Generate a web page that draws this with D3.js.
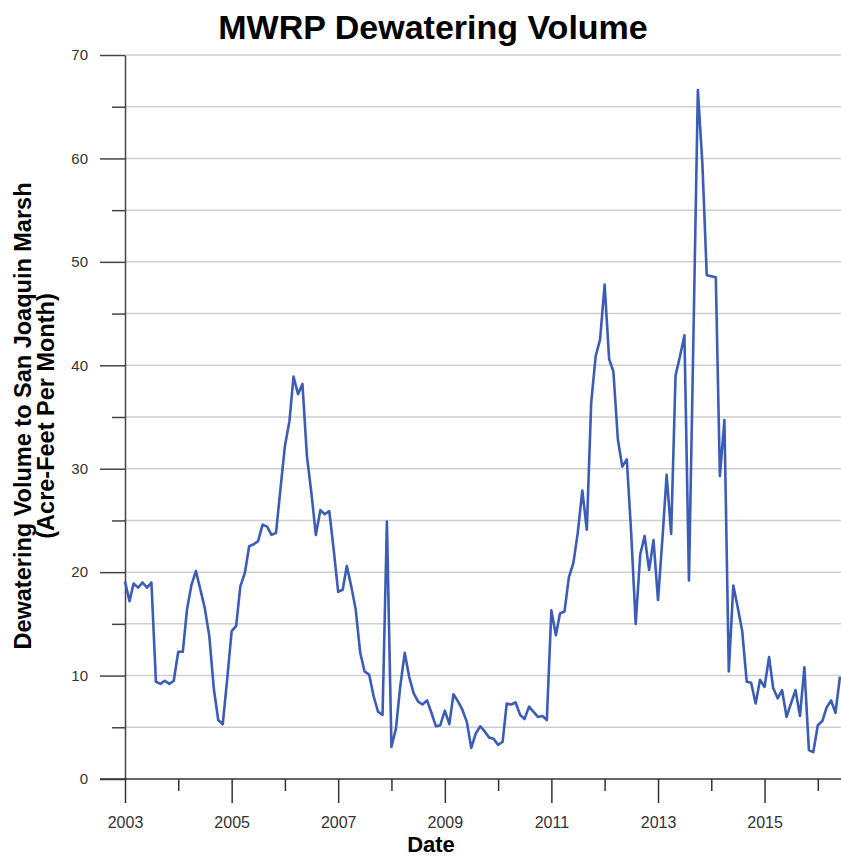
<!DOCTYPE html>
<html>
<head>
<meta charset="utf-8">
<script src="https://cdn.jsdelivr.net/npm/d3@7"></script>
<style>
  body { margin: 0; background: #fff; }
  svg { display: block; font-family: "Liberation Sans", Arial, sans-serif; }
  .grid line { stroke: #cfcfcf; stroke-width: 1.5; }
</style>
</head>
<body>
<div id="chart"></div>
<script>
// monthly dewatering volume, starting January 2003
var firstYear = 2003;
var volume = [
  19.1, 17.2, 18.9, 18.5, 19.0, 18.5, 19.0, 9.4, 9.2, 9.5, 9.2, 9.5,        // 2003
  12.3, 12.3, 16.4, 18.8, 20.1, 18.3, 16.5, 13.8, 8.7, 5.7, 5.3, 9.6,       // 2004
  14.3, 14.8, 18.6, 19.9, 22.5, 22.7, 23.0, 24.6, 24.4, 23.6, 23.8, 28.0,   // 2005
  32.2, 34.6, 38.9, 37.2, 38.2, 31.2, 27.7, 23.6, 26.0, 25.6, 25.9, 22.2,   // 2006
  18.1, 18.3, 20.6, 18.6, 16.4, 12.2, 10.4, 10.1, 8.0, 6.5, 6.2, 24.9,      // 2007
  3.1, 4.9, 8.9, 12.2, 9.9, 8.3, 7.5, 7.2, 7.6, 6.4, 5.1, 5.2,              // 2008
  6.6, 5.3, 8.2, 7.5, 6.7, 5.5, 3.0, 4.4, 5.1, 4.6, 4.0, 3.9,               // 2009
  3.3, 3.6, 7.3, 7.2, 7.4, 6.2, 5.8, 7.0, 6.5, 6.0, 6.1, 5.7,               // 2010
  16.3, 13.9, 16.0, 16.2, 19.5, 20.9, 23.8, 27.9, 24.1, 36.4, 40.9, 42.5,   // 2011
  47.8, 40.6, 39.4, 32.8, 30.2, 30.9, 23.8, 15.0, 21.7, 23.5, 20.2, 23.1,   // 2012
  17.3, 23.4, 29.4, 23.7, 39.0, 40.9, 42.9, 19.2, 43.0, 66.6, 59.5, 48.7,   // 2013
  48.6, 48.5, 29.3, 34.7, 10.4, 18.7, 16.6, 14.3, 9.4, 9.3, 7.3, 9.6,       // 2014
  8.9, 11.8, 8.8, 7.8, 8.6, 6.0, 7.3, 8.6, 6.1, 10.8, 2.8, 2.6,             // 2015
  5.2, 5.6, 6.9, 7.6, 6.4, 9.9                                              // 2016
];
var yMajor = [0, 10, 20, 30, 40, 50, 60, 70];
var yMinor = [5, 15, 25, 35, 45, 55, 65];
var xMajorYears = [2003, 2005, 2007, 2009, 2011, 2013, 2015];
var xMinorYears = [2004, 2006, 2008, 2010, 2012, 2014, 2016];

(function(){
  var width = 841, height = 857;
  var padLeft = 125, padTop = 55, axisY = 779;

  var data = volume.map(function(v, i){
    return { date: new Date(Date.UTC(firstYear, i, 1)), value: v };
  });
  function yearDate(yr){ return new Date(Date.UTC(yr, 0, 1)); }

  var x = d3.scaleUtc()
    .domain([yearDate(2003), new Date(Date.UTC(2016, 5, 8))])
    .range([padLeft, width]);
  var y = d3.scaleLinear().domain([0, 70]).range([axisY, padTop]);

  var svg = d3.select('#chart').append('svg')
    .attr('width', width)
    .attr('height', height);

  // gridlines every 5
  svg.append('g').attr('class', 'grid')
    .selectAll('line')
    .data(yMajor.concat(yMinor).filter(function(d){ return d > 0; }))
    .enter().append('line')
      .attr('x1', padLeft).attr('x2', width)
      .attr('y1', function(d){ return y(d); })
      .attr('y2', function(d){ return y(d); });

  // y axis
  var yAxis = svg.append('g').attr('transform', 'translate(' + padLeft + ',0)');
  yAxis.call(d3.axisLeft(y).tickValues(yMajor).tickSize(25).tickPadding(12).tickSizeOuter(0));
  yAxis.append('g').call(d3.axisLeft(y).tickValues(yMinor).tickSize(13).tickFormat('').tickSizeOuter(0))
    .select('.domain').remove();
  yAxis.selectAll('.domain, line').attr('stroke', '#444').attr('stroke-width', 1.5);
  yAxis.selectAll('text').style('font-size', '15px').attr('fill', '#333');

  // x axis
  var xAxis = svg.append('g').attr('transform', 'translate(0,' + axisY + ')');
  xAxis.call(d3.axisBottom(x)
    .tickValues(xMajorYears.map(yearDate))
    .tickFormat(d3.utcFormat('%Y'))
    .tickSize(24).tickPadding(14).tickSizeOuter(0));
  xAxis.append('g').call(d3.axisBottom(x)
    .tickValues(xMinorYears.map(yearDate))
    .tickSize(12).tickFormat('').tickSizeOuter(0))
    .select('.domain').remove();
  xAxis.select('.domain').attr('d', 'M' + (padLeft - 25) + ',0H' + width);
  xAxis.selectAll('.domain, line').attr('stroke', '#333').attr('stroke-width', 1.5);
  xAxis.selectAll('text').style('font-size', '16px').attr('fill', '#333');

  // data line
  var line = d3.line()
    .x(function(d){ return x(d.date); })
    .y(function(d){ return y(d.value); });

  svg.append('path')
    .datum(data)
    .attr('fill', 'none')
    .attr('stroke', '#3b5db5')
    .attr('stroke-width', 2.6)
    .attr('stroke-linejoin', 'round')
    .attr('d', line);

  // titles
  svg.append('text')
    .attr('x', 433).attr('y', 39)
    .attr('text-anchor', 'middle')
    .style('font-size', '34px').style('font-weight', 'bold')
    .text('MWRP Dewatering Volume');

  svg.append('text')
    .attr('x', 431).attr('y', 852)
    .attr('text-anchor', 'middle')
    .style('font-size', '22px').style('font-weight', 'bold')
    .text('Date');

  var yt = svg.append('text')
    .attr('transform', 'translate(31,416) rotate(-90)')
    .attr('text-anchor', 'middle')
    .style('font-size', '23.5px').style('font-weight', 'bold');
  yt.append('tspan').attr('x', 0).attr('dy', 0).text('Dewatering Volume to San Joaquin Marsh');
  yt.append('tspan').attr('x', 0).attr('dy', 23).text('(Acre-Feet Per Month)');
})();
</script>
</body>
</html>
